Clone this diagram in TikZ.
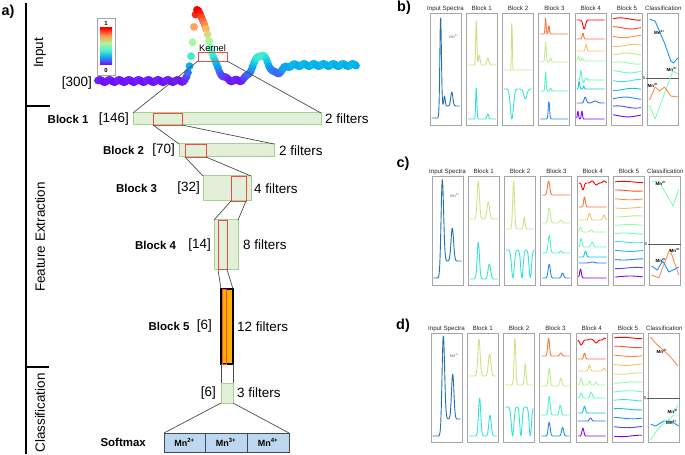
\documentclass[tikz,border=0pt]{standalone}
\usepackage{fontspec}
\setmainfont{Liberation Sans}
\usepackage{tikz}
\usetikzlibrary{positioning}
\definecolor{blkfill}{HTML}{E2F0D9}
\definecolor{blkline}{HTML}{A9D18E}
\definecolor{kred}{HTML}{EE4B45}
\definecolor{b5fill}{HTML}{FFB000}
\definecolor{smfill}{HTML}{BDD7EE}
\definecolor{smline}{HTML}{3B4A5C}
\definecolor{specblue}{HTML}{2471B0}
\definecolor{boxgray}{HTML}{A6A6A6}
\definecolor{mnblue}{rgb}{0.1,0.59,0.95}
\definecolor{mngreen}{rgb}{0.5,1,0.71}
\definecolor{mnorange}{rgb}{1,0.55,0.28}
\tikzstyle{rule} = [draw=black, line width=2bp]
\tikzstyle{plab} = [inner sep=0pt, font=\fontsize{14.5}{16}\selectfont\bfseries]
\tikzstyle{sec} = [inner sep=0pt, rotate=90, font=\fontsize{13.5}{15}\selectfont]
\tikzstyle{cbl} = [inner sep=0pt, font=\fontsize{6}{6}\selectfont\bfseries]
\tikzstyle{lbl} = [inner sep=0pt, font=\fontsize{13.5}{15}\selectfont]
\tikzstyle{blbl} = [inner sep=0pt, font=\fontsize{11.5}{13}\selectfont\bfseries]
\tikzstyle{klbl} = [inner sep=0pt, font=\fontsize{9.3}{10}\selectfont]
\tikzstyle{blk} = [draw=blkline, fill=blkfill, line width=1bp, inner sep=0pt, outer sep=0pt]
\tikzstyle{blkf} = [draw=black, fill=b5fill, line width=1.2bp, inner sep=0pt, outer sep=0pt]
\tikzstyle{kern} = [draw=kred, line width=0.9bp, inner sep=0pt, outer sep=0pt]
\tikzstyle{sm} = [draw=smline, fill=smfill, line width=0.8bp, inner sep=0pt, outer sep=0pt, minimum height=19bp, font=\fontsize{9}{10}\selectfont\bfseries]
\tikzstyle{link} = [draw=black!70, line width=0.7bp]
\tikzstyle{pbox} = [draw=boxgray, line width=0.9bp]
\tikzstyle{ttl} = [inner sep=0pt, font=\fontsize{6.2}{7}\selectfont, text=black!85]
\tikzstyle{spec} = [line width=0.9bp, line join=round]
\tikzstyle{mnin} = [inner sep=0pt, font=\fontsize{4}{4}\selectfont, text=black!60]
\tikzstyle{mncl} = [inner sep=0pt, font=\fontsize{4.5}{5}\selectfont\bfseries]
\tikzstyle{zline} = [draw=black!65, line width=0.9bp]
\tikzstyle{cline} = [line width=0.9bp, line join=round]

\pgfdeclareverticalshading{rbar}{100bp}{rgb(0bp)=(0.5,0,1); rgb(25bp)=(0.5,0,1); rgb(35bp)=(0.1,0.59,0.95); rgb(45bp)=(0.3,0.95,0.81); rgb(55bp)=(0.7,0.95,0.59); rgb(65bp)=(1,0.59,0.31); rgb(75bp)=(1,0,0); rgb(100bp)=(1,0,0)}
\pgfmathdeclarefunction{pk}{4}{\pgfmathparse{#2*exp(-min(((#1-#3)/#4)*((#1-#3)/#4),9))}}
\pgfmathdeclarefunction{st}{4}{\pgfmathparse{#2/(1+exp(max(-9,min(9,#4*(#3-#1)))))}}
% rainbow colour map
\newcommand\rbow[2]{%
  \pgfmathsetmacro\rbR{max(0,min(1,abs(2*(#2)-0.5)))}%
  \pgfmathsetmacro\rbG{max(0,sin(180*(#2)))}%
  \pgfmathsetmacro\rbB{max(0,cos(90*(#2)))}%
  \definecolor{#1}{rgb}{\rbR,\rbG,\rbB}}
\newcommand\trace[3]{\rbow{tc}{#1}\draw[spec,tc] plot[smooth,domain=1.5:29.5,samples=49,variable=\t] (\t,{#2-(#3)});}
\newcommand\intrace[2]{\draw[spec,specblue] plot[smooth,domain=1.5:29.5,samples=49,variable=\t] (\t,{#1-(#2)});}
\def\dx{36.3}
\newcommand\panelframes[2]{%
  \foreach \ttl [count=\k from 0] in {Input Spectra,Block 1,Block 2,Block 3,Block 4,Block 5,Classification}{%
    \draw[pbox] (\dx*\k,0) rectangle ++(31,#1);
    \node[ttl] (#2t\k) at (\dx*\k+15.5,-4.5) {\ttl};}}

\begin{document}
\begin{tikzpicture}[x=1bp,y=-1bp]
\useasboundingbox (0,0) rectangle (685,455);

% panel a
\draw[rule] (26,3) -- (26,454);
\draw[rule] (26,106) -- (50,106);
\draw[rule] (26,367) -- (49,367);
\node[plab] (pa) at (8,12) {a)};
\node[sec] (sin) at (40,53) {Input};
\node[sec] (sfe) at (40,237) {Feature Extraction};
\node[sec] (scl) at (40,413) {Classification};

\draw[draw=boxgray, line width=0.8bp] (97,18) rectangle (115,75);
\shade[shading=rbar] (100,28) rectangle (112,65);
\node[cbl] (cb1) at (106,23) {1};
\node[cbl] (cb0) at (106,70.5) {0};

\foreach \px in {98,99.5,...,357}{
  \pgfmathsetmacro\hh{2+1.2*sin(37*\px)+(\px<197)*pk(\px,70,197,6)+(1-(\px<197))*pk(\px,70,197,16)+pk(\px,26,261,11)+st(\px,16,280,0.3)}
  \rbow{dotc}{min(1,\hh/72)}
  \fill[dotc] (\px,83-\hh) circle (3.9bp);}
\coordinate (sp0) at (98,83);
\node[lbl, left=6bp of sp0] (n300) {[300]};

\node[kern, minimum width=29bp, minimum height=9bp] (kr) at (212.5,56.5) {};
\node[klbl, above=0.5bp of kr] (klab) {Kernel};

\node[blk, minimum width=188bp, minimum height=12bp] (b1) at (227,119) {};
\node[kern, minimum width=29bp, minimum height=12bp] (k1) at (167.5,119) {};
\node[blk, minimum width=95bp, minimum height=13bp] (b2) at (226.5,150.5) {};
\node[kern, minimum width=21bp, minimum height=13bp] (k2) at (195.5,150.5) {};
\node[blk, minimum width=48bp, minimum height=25bp] (b3) at (227,188.5) {};
\node[kern, minimum width=15bp, minimum height=25bp] (k3) at (238.5,188.5) {};
\node[blk, minimum width=24bp, minimum height=50bp] (b4) at (226,245) {};
\node[kern, minimum width=9bp, minimum height=49bp] (k4) at (222.5,245) {};
\node[blkf, minimum width=12bp, minimum height=75bp] (b5) at (227,326.5) {};
\node[kern, line width=0.7bp, minimum width=4bp, minimum height=75bp] (k5) at (224.7,326.5) {};
\node[blk, minimum width=12bp, minimum height=20bp] (c6) at (227,393) {};
\node[sm, minimum width=41bp] (s1) at (184.5,442.5) {Mn\textsuperscript{2+}};
\node[sm, minimum width=42bp, right=0bp of s1] (s2) {Mn\textsuperscript{3+}};
\node[sm, minimum width=42bp, right=0bp of s2] (s3) {Mn\textsuperscript{4+}};

\node[lbl, left=4bp of b1] (d1) {[146]};
\node[blbl, left=10bp of d1] (n1) {Block 1};
\node[lbl, right=4bp of b1] (f1) {2 filters};
\node[lbl, left=4bp of b2] (d2) {[70]};
\node[blbl, left=8bp of d2] (n2) {Block 2};
\node[lbl, right=5bp of b2] (f2) {2 filters};
\node[lbl, left=3bp of b3] (d3) {[32]};
\node[blbl, left=20bp of d3] (n3) {Block 3};
\node[lbl, right=3bp of b3] (f3) {4 filters};
\node[lbl, left=3bp of b4] (d4) {[14]};
\node[blbl, left=12bp of d4] (n4) {Block 4};
\node[lbl, right=5bp of b4] (f4) {8 filters};
\node[lbl, left=9bp of b5] (d5) {[6]};
\node[blbl, left=7bp of d5] (n5) {Block 5};
\node[lbl, right=4bp of b5] (f5) {12 filters};
\node[lbl, left=5bp of c6] (d6) {[6]};
\node[lbl, right=4bp of c6] (f6) {3 filters};
\node[blbl, left=18bp of s1] (smx) {Softmax};

\draw[link] (kr.south west) -- (b1.north west) (kr.south east) -- (b1.north east);
\draw[link] (k1.south west) -- (b2.north west) (k1.south east) -- (b2.north east);
\draw[link] (k2.south west) -- (b3.north west) (k2.south east) -- (b3.north east);
\draw[link] (k3.south west) -- (b4.north west) (k3.south east) -- (b4.north east);
\draw[link] (k4.south west) -- (b5.north west) (k4.south east) -- (b5.north east);
\draw[link] (b5.south west) -- (c6.north west) (b5.south east) -- (c6.north east);
\draw[link] (c6.south west) -- (s1.north west) (c6.south east) -- (s3.north east);

% panel b
\node[plab] (pb) at (404,8) {b)};
\begin{scope}[shift={(430,13)}]
\panelframes{112}{b}
\intrace{105}{pk(\t,98,10.6,1.1)+st(\t,12,11,2)+pk(\t,10,14.5,1)+pk(\t,14,21.8,1.5)}
\node[mnin] (bin) at (24,24) {Mn\textsuperscript{2+}};
\begin{scope}[shift={(\dx,0)}]
\trace{0.65}{52}{pk(\t,47,10,0.8)+pk(\t,10,13,1.1)+pk(\t,7,21.5,1.4)}
\trace{0.35}{106}{pk(\t,33,10,0.8)+pk(\t,5,21.5,1.2)}
\end{scope}
\begin{scope}[shift={(2*\dx,0)}]
\trace{0.65}{57}{pk(\t,52,9.3,0.6)}
\trace{0.35}{76}{-pk(\t,30,9.3,2.2)-pk(\t,10,22.7,2.2)}
\end{scope}
\begin{scope}[shift={(3*\dx,0)}]
\trace{0.85}{21}{pk(\t,16,6.7,0.7)+pk(\t,9,10,0.7)}
\trace{0.62}{49}{pk(\t,20,6.7,0.9)+pk(\t,4,11.7,1)}
\trace{0.4}{78}{pk(\t,19,6.7,0.8)+pk(\t,3,11.7,1)}
\trace{0.18}{106}{pk(\t,18,10,0.9)}
\end{scope}
\begin{scope}[shift={(4*\dx,0)}]
\trace{1}{7}{-pk(\t,9,9,1.8)}
\trace{0.857}{26}{pk(\t,6,7.7,1)}
\trace{0.714}{38}{pk(\t,7,11,1)}
\trace{0.571}{48}{pk(\t,5,3.3,1)+pk(\t,3,7,1)}
\trace{0.429}{67}{pk(\t,10,5.7,0.8)-pk(\t,3,8.3,0.8)+pk(\t,2,11,1)}
\trace{0.286}{76}{pk(\t,8,4,0.8)+pk(\t,3,8.5,0.8)}
\trace{0.143}{90}{pk(\t,6,10,1.5)+pk(\t,2,20,3)}
\trace{0}{106}{pk(\t,8,2.7,0.8)+pk(\t,8,6.7,0.8)}
\end{scope}
\begin{scope}[shift={(5*\dx,0)}]
\foreach \i in {0,...,11}{\trace{1-\i/11}{6+8.8*\i}{1.1*sin(10*\t+75*\i)}}
\end{scope}
\begin{scope}[shift={(6*\dx,0)}]
\draw[zline] (-2,65) -- (31,65);
\node[mnin, text=black, anchor=east] (bz) at (-2.5,65) {0};
\draw[cline, mnblue] (1.7,6) -- (7.3,8) -- (16.7,30) -- (23,48) -- (25.7,50) -- (30,45);
\draw[cline, mngreen] (1.7,92) -- (7.3,106) -- (25,58) -- (30,61);
\draw[cline, mnorange] (1.7,87) -- (7.3,74) -- (11.7,78) -- (16.7,74) -- (23,83) -- (30,84);
\node[mncl] (bm2) at (11.5,19) {Mn\textsuperscript{2+}};
\node[mncl] (bm3) at (24,56) {Mn\textsuperscript{3+}};
\node[mncl] (bm4) at (5,72) {Mn\textsuperscript{4+}};
\end{scope}
\end{scope}

% panel c
\node[plab] (pc) at (403,164) {c)};
\begin{scope}[shift={(432,176)}]
\panelframes{109}{c}
\intrace{102}{pk(\t,97,10.3,1.8)+st(\t,17,11.5,2)+pk(\t,33,20.3,1.8)}
\node[mnin] (cin) at (23,20) {Mn\textsuperscript{3+}};
\begin{scope}[shift={(\dx,0)}]
\trace{0.65}{43}{pk(\t,38,10,1.6)+pk(\t,17,20,1.8)}
\trace{0.35}{103}{pk(\t,37,10,1.6)+pk(\t,15,21,1.8)}
\end{scope}
\begin{scope}[shift={(2*\dx,0)}]
\trace{0.65}{53}{pk(\t,48,9,1.3)+pk(\t,12,19.7,1.1)}
\trace{0.35}{74}{-pk(\t,28,8.3,1.9)-pk(\t,28,17.3,1.7)-pk(\t,28,25.7,1.7)}
\end{scope}
\begin{scope}[shift={(3*\dx,0)}]
\trace{0.85}{19}{pk(\t,14,7.7,1.6)}
\trace{0.62}{47}{pk(\t,15,8.3,1.6)+pk(\t,3,20,1.5)}
\trace{0.4}{77}{pk(\t,18,8.3,1.5)+pk(\t,2,20,1.5)}
\trace{0.18}{102}{pk(\t,14,8.3,1.5)+pk(\t,5,21.7,1.5)}
\end{scope}
\begin{scope}[shift={(4*\dx,0)}]
\trace{1}{7}{-pk(\t,7,5.7,1.5)+pk(\t,2,15,2)-pk(\t,2,19,2)+pk(\t,2,27,2)}
\trace{0.857}{31}{pk(\t,10,7.3,1.2)}
\trace{0.714}{44}{pk(\t,7,12.3,1.5)+pk(\t,5,26.7,1.5)}
\trace{0.571}{56}{pk(\t,5,3.3,1.2)+pk(\t,2,14,1.5)}
\trace{0.429}{71}{pk(\t,9,4,1.2)+pk(\t,5,15,1.5)}
\trace{0.286}{81}{pk(\t,6,8.3,1.3)}
\trace{0.143}{87}{pk(\t,1,15,3)}
\trace{0}{102}{pk(\t,9,3.3,1.2)}
\end{scope}
\begin{scope}[shift={(5*\dx,0)}]
\foreach \i in {0,...,11}{\trace{1-\i/11}{6+8.6*\i}{0.6*sin(9*\t+60*\i)}}
\end{scope}
\begin{scope}[shift={(6*\dx,0)}]
\draw[zline] (-2,68) -- (31,68);
\node[mnin, text=black, anchor=east] (cz) at (-2.5,68) {0};
\draw[cline, mngreen] (1.7,6) -- (9,5) -- (23.3,30) -- (29,13);
\draw[cline, mnorange] (1.7,99) -- (9,102) -- (20,73) -- (29,99);
\draw[cline, mnblue] (1.7,90) -- (7.5,94) -- (13,85) -- (19,96) -- (29,91);
\node[mncl] (cm3) at (11,7) {Mn\textsuperscript{3+}};
\node[mncl] (cm4) at (25,74) {Mn\textsuperscript{4+}};
\node[mncl] (cm2) at (11,84) {Mn\textsuperscript{2+}};
\end{scope}
\end{scope}

% panel d
\node[plab] (pd) at (403,326) {d)};
\begin{scope}[shift={(431,333)}]
\panelframes{109}{d}
\intrace{103}{pk(\t,99,12.3,1.8)+st(\t,17,13.5,2)+pk(\t,45,21.7,1.7)}
\node[mnin] (din) at (23.5,23) {Mn\textsuperscript{4+}};
\begin{scope}[shift={(\dx,0)}]
\trace{0.65}{43}{pk(\t,37,11.7,1.6)+pk(\t,22,22.3,1.8)}
\trace{0.35}{103}{pk(\t,38,12.3,1.6)+pk(\t,21,22.7,1.7)}
\end{scope}
\begin{scope}[shift={(2*\dx,0)}]
\trace{0.65}{52}{pk(\t,47,11.3,1.2)+pk(\t,22,21.7,1.1)}
\trace{0.35}{74}{-pk(\t,29,9,1.8)-pk(\t,29,17.3,1.6)-pk(\t,29,26.7,1.6)}
\end{scope}
\begin{scope}[shift={(3*\dx,0)}]
\trace{0.85}{23}{pk(\t,18,8.7,1.3)+pk(\t,3,21,1.5)}
\trace{0.62}{53}{pk(\t,18,9.3,1.3)+pk(\t,8,21,1.5)}
\trace{0.4}{82}{pk(\t,19,9.3,1.3)+pk(\t,10,20.3,1.3)}
\trace{0.18}{103}{pk(\t,14,9.3,1.4)+pk(\t,9,22.7,1.4)}
\end{scope}
\begin{scope}[shift={(4*\dx,0)}]
\trace{1}{7}{-pk(\t,5,5,2)+pk(\t,1,14.3,2)-pk(\t,3,20,2)+pk(\t,2,28.3,1.5)}
\trace{0.857}{26}{pk(\t,6,8.3,1.2)}
\trace{0.714}{38}{pk(\t,6,13.3,1.3)+pk(\t,3,27.7,1.2)}
\trace{0.571}{52}{pk(\t,7,5,1.2)+pk(\t,4,13.3,1.2)+pk(\t,3,20,1.2)}
\trace{0.429}{65}{pk(\t,5,5,1.2)+pk(\t,6,15,1.5)}
\trace{0.286}{80}{pk(\t,7,8.3,1.3)}
\trace{0.143}{88}{pk(\t,3,14.3,1.5)}
\trace{0}{103}{pk(\t,8,6.7,1.3)}
\end{scope}
\begin{scope}[shift={(5*\dx,0)}]
\foreach \i in {0,...,11}{\trace{1-\i/11}{5+8.9*\i}{0.7*sin(9*\t+50*\i)}}
\end{scope}
\begin{scope}[shift={(6*\dx,0)}]
\draw[zline] (-2,65) -- (31,65);
\node[mnin, text=black, anchor=east] (dz) at (-2.5,65) {0};
\draw[cline, mnorange] (1.7,4) -- (6.7,10) -- (15,18) -- (20,22) -- (29.3,33);
\draw[cline, mnblue] (1.7,91) -- (6.7,93) -- (15,88) -- (21.7,88) -- (30,93);
\draw[cline, mngreen] (1.7,107) -- (9,96) -- (15.5,90) -- (24,83) -- (29,72);
\node[mncl] (dm4) at (13,18) {Mn\textsuperscript{4+}};
\node[mncl] (dm3) at (24,78) {Mn\textsuperscript{3+}};
\node[mncl] (dm2) at (22.5,89) {Mn\textsuperscript{2+}};
\end{scope}
\end{scope}
\end{tikzpicture}
\end{document}
